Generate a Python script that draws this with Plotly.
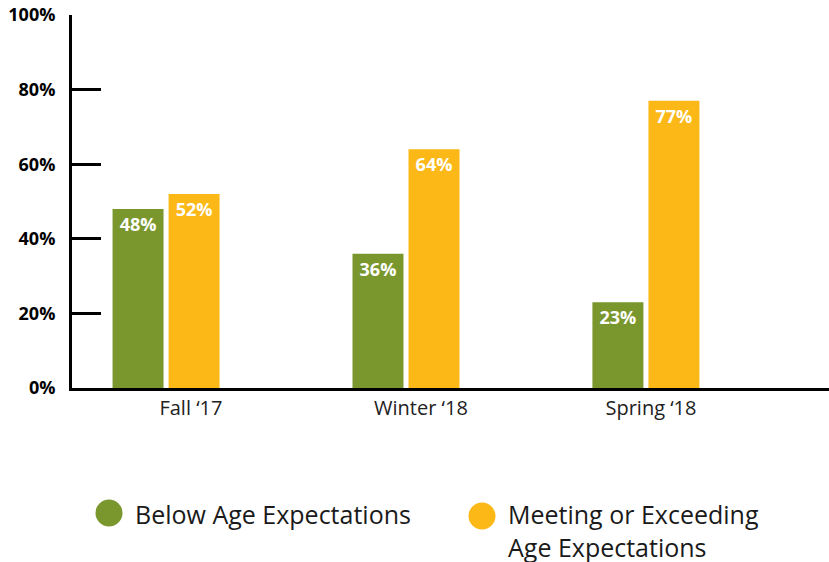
import plotly.graph_objects as go

# ---- data ----
categories = ["Fall \u201817", "Winter \u201818", "Spring \u201818"]
below_values = [48, 36, 23]
meeting_values = [52, 64, 77]
series_names = ["Below Age Expectations", "Meeting or Exceeding<br>Age Expectations"]
y_tick_values = [0, 20, 40, 60, 80, 100]
y_tick_labels = ["0%", "20%", "40%", "60%", "80%", "100%"]

GREEN = "#7a972e"
ORANGE = "#fbb817"
FONT = "Open Sans"

W, H = 829, 562
ML, MT = 72, 15
MR, MB = 0, 562 - 388
PW, PH = W - ML - MR, H - MT - MB


def px_x(px):
    return (px - ML) / PW


def px_y(py):
    return (H - MB - py) / PH


fig = go.Figure()
for vals, color in [(below_values, GREEN), (meeting_values, ORANGE)]:
    fig.add_trace(go.Bar(
        x=categories, y=vals,
        marker=dict(color=color, line=dict(width=0)),
        text=[f"{v}%" for v in vals],
        textposition="inside", insidetextanchor="end",
        textfont=dict(family=FONT, size=18, color="white", weight="bold"),
        constraintext="none",
        showlegend=False,
    ))

# empty helper trace so the overlay label axis is drawn
fig.add_trace(go.Scatter(
    x=categories, y=[None] * len(categories), xaxis="x2", yaxis="y",
    mode="markers", showlegend=False, hoverinfo="skip",
))

fig.update_layout(
    width=W, height=H,
    margin=dict(l=ML, r=MR, t=MT, b=MB),
    paper_bgcolor="white", plot_bgcolor="white",
    barmode="group", bargap=0.533, bargroupgap=0.09,
    font=dict(family=FONT, color="#1a1a1a"),
    xaxis=dict(
        type="category", range=[-0.392, 2.763],
        showline=True, linecolor="black", linewidth=3,
        ticks="", showgrid=False, showticklabels=False,
        automargin=False,
    ),
    # overlay axis carrying the category labels (offset like the original)
    xaxis2=dict(
        type="category", overlaying="x", anchor="y", side="bottom",
        range=[-0.517, 2.774],
        showline=False, showgrid=False, zeroline=False, ticks="",
        tickfont=dict(family=FONT, size=20, color="#222222"),
        ticklabelstandoff=6, automargin=False,
    ),
    yaxis=dict(
        range=[0, 100], tickvals=y_tick_values, ticktext=y_tick_labels,
        ticks="inside", ticklen=29, tickwidth=3, tickcolor="black",
        showline=True, linecolor="black", linewidth=3,
        showgrid=False, zeroline=False,
        tickfont=dict(family=FONT, size=18, color="black", weight="bold"),
        ticklabelstandoff=10, ticklabeloverflow="allow", automargin=False,
    ),
)

# custom legend (circles + text)
legend_items = [
    (series_names[0], GREEN, 109, 513, 133, 514),
    (series_names[1], ORANGE, 482, 516, 506, 530),
]
for name, color, cx, cy, tx, ty in legend_items:
    r = 13.5
    fig.add_shape(type="circle", xref="paper", yref="paper",
                  x0=px_x(cx - r), x1=px_x(cx + r),
                  y0=px_y(cy + r), y1=px_y(cy - r),
                  fillcolor=color, line=dict(width=0))
    fig.add_annotation(xref="paper", yref="paper", x=px_x(tx), y=px_y(ty),
                       text=name, showarrow=False, xanchor="left", yanchor="middle",
                       align="left",
                       font=dict(family=FONT, size=25, color="#1a1a1a"))

fig.write_html("out.html", config={"displayModeBar": False},
               post_script="document.body.style.margin='0';")
